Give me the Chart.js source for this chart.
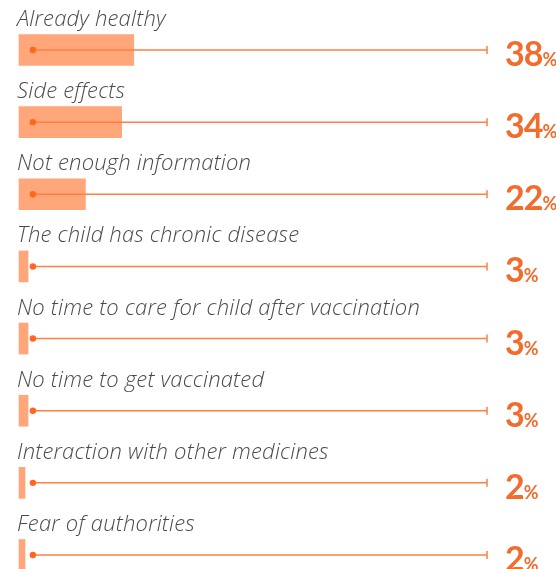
<!DOCTYPE html>
<html>
<head>
<meta charset="utf-8">
<script src="https://cdn.jsdelivr.net/npm/chart.js@4/dist/chart.umd.min.js"></script>
<style>
    html, body { margin: 0; padding: 0; background: #fff; }
    #wrap { width: 556px; height: 569px; position: relative; }
</style>
</head>
<body>
<div id="wrap"><canvas id="chart"></canvas></div>
<script>
// reasons for not vaccinating
const reasons = [
    'Already healthy',
    'Side effects',
    'Not enough information',
    'The child has chronic disease',
    'No time to care for child after vaccination',
    'No time to get vaccinated',
    'Interaction with other medicines',
    'Fear of authorities'
];
const shares = [38, 34, 22, 3, 3, 3, 2, 2];

const barColor = 'rgb(255, 166, 122)';
const lineColor = 'rgb(255, 128, 64)';
const dotColor = 'rgb(255, 102, 30)';
const textOrange = 'rgb(241, 108, 45)';

// เส้น จุด ป้ายชื่อ และตัวเลข
const decorPlugin = {
    id: 'decor',
    afterDatasetsDraw(chart) {
        const ctx = chart.ctx;
        const xs = chart.scales.x;
        const area = chart.chartArea;
        const meta = chart.getDatasetMeta(0);
        const x0 = xs.getPixelForValue(4.6);
        const x1 = area.right;
        ctx.save();
        meta.data.forEach(function(bar, i) {
            const y = bar.y;
            // line
            ctx.strokeStyle = lineColor;
            ctx.lineWidth = 1.5;
            ctx.beginPath();
            ctx.moveTo(x0, y);
            ctx.lineTo(x1, y);
            ctx.moveTo(x1, y - 4);
            ctx.lineTo(x1, y + 4);
            ctx.stroke();
            // dot
            ctx.fillStyle = dotColor;
            ctx.beginPath();
            ctx.arc(x0, y, 3.2, 0, Math.PI * 2);
            ctx.fill();
            // category label
            ctx.fillStyle = '#4a4a4c';
            ctx.font = 'italic 300 22px "Open Sans", "Noto Sans", sans-serif';
            ctx.letterSpacing = '0.2px';
            ctx.textAlign = 'left';
            ctx.textBaseline = 'alphabetic';
            ctx.fillText(reasons[i], 17, y - 24);
            // value
            const num = String(shares[i]);
            ctx.letterSpacing = '-1px';
            ctx.fillStyle = textOrange;
            ctx.font = 'bold 34px Lato, "Open Sans", sans-serif';
            const tx = x1 + 18;
            ctx.fillText(num, tx, y + 16);
            const w = ctx.measureText(num).width;
            ctx.letterSpacing = '0px';
            ctx.font = 'bold 18px Lato, "Open Sans", sans-serif';
            ctx.fillText('%', tx + w, y + 16);
        });
        ctx.restore();
    }
};

new Chart(document.getElementById('chart'), {
    type: 'bar',
    data: {
        labels: reasons,
        datasets: [{
            data: shares,
            backgroundColor: barColor,
            borderWidth: 0,
            barThickness: 31,
            clip: false
        }]
    },
    options: {
        indexAxis: 'y',
        responsive: true,
        maintainAspectRatio: false,
        animation: false,
        layout: { padding: { left: 19, right: 69, top: 50, bottom: 14 } },
        plugins: {
            legend: { display: false },
            tooltip: { enabled: false }
        },
        scales: {
            x: { display: false, min: 0, max: 155 },
            y: { display: false, offset: false }
        }
    },
    plugins: [decorPlugin]
});
</script>
</body>
</html>
